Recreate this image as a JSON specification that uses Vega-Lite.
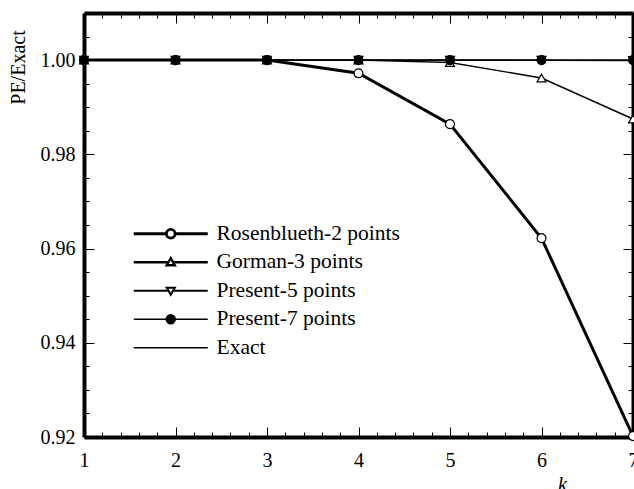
{
  "$schema": "https://vega.github.io/schema/vega-lite/v6.json",
  "width": 549,
  "height": 424,
  "autosize": {"type": "none"},
  "padding": {"left": 84, "top": 13, "right": 1, "bottom": 52},
  "background": "white",
  "config": {"view": {"stroke": null}, "font": "Liberation Serif"},
  "data": {
    "values": [
      {"k": 1, "v": 1.0, "s": "Exact"},
      {"k": 2, "v": 1.0, "s": "Exact"},
      {"k": 3, "v": 1.0, "s": "Exact"},
      {"k": 4, "v": 1.0, "s": "Exact"},
      {"k": 5, "v": 1.0, "s": "Exact"},
      {"k": 6, "v": 1.0, "s": "Exact"},
      {"k": 7, "v": 1.0, "s": "Exact"},
      {"k": 1, "v": 1.0, "s": "Rosenblueth-2 points"},
      {"k": 2, "v": 1.0, "s": "Rosenblueth-2 points"},
      {"k": 3, "v": 1.0, "s": "Rosenblueth-2 points"},
      {"k": 4, "v": 0.9972, "s": "Rosenblueth-2 points"},
      {"k": 5, "v": 0.9864, "s": "Rosenblueth-2 points"},
      {"k": 6, "v": 0.9622, "s": "Rosenblueth-2 points"},
      {"k": 7, "v": 0.9202, "s": "Rosenblueth-2 points"},
      {"k": 1, "v": 1.0, "s": "Gorman-3 points"},
      {"k": 2, "v": 1.0, "s": "Gorman-3 points"},
      {"k": 3, "v": 1.0, "s": "Gorman-3 points"},
      {"k": 4, "v": 1.0, "s": "Gorman-3 points"},
      {"k": 5, "v": 0.9995, "s": "Gorman-3 points"},
      {"k": 6, "v": 0.9962, "s": "Gorman-3 points"},
      {"k": 7, "v": 0.9875, "s": "Gorman-3 points"},
      {"k": 1, "v": 1.0, "s": "Present-5 points"},
      {"k": 2, "v": 1.0, "s": "Present-5 points"},
      {"k": 3, "v": 1.0, "s": "Present-5 points"},
      {"k": 4, "v": 1.0, "s": "Present-5 points"},
      {"k": 5, "v": 1.0, "s": "Present-5 points"},
      {"k": 6, "v": 0.99995, "s": "Present-5 points"},
      {"k": 7, "v": 0.9999, "s": "Present-5 points"},
      {"k": 1, "v": 1.0, "s": "Present-7 points"},
      {"k": 2, "v": 1.0, "s": "Present-7 points"},
      {"k": 3, "v": 1.0, "s": "Present-7 points"},
      {"k": 4, "v": 1.0, "s": "Present-7 points"},
      {"k": 5, "v": 1.0, "s": "Present-7 points"},
      {"k": 6, "v": 1.0, "s": "Present-7 points"},
      {"k": 7, "v": 1.0, "s": "Present-7 points"}
    ]
  },
  "resolve": {"axis": {"x": "independent", "y": "independent"}},
  "layer": [
    {
      "transform": [{"filter": "datum.s !== 'Rosenblueth-2 points'"}],
      "mark": {"type": "line", "color": "black", "strokeWidth": 1.4},
      "encoding": {
        "detail": {"field": "s"},
        "x": {
          "field": "k", "type": "quantitative",
          "scale": {"domain": [1, 7], "nice": false, "zero": false},
          "axis": {
            "orient": "top",
            "values": [1,1.2,1.4,1.6,1.8,2,2.2,2.4,2.6,2.8,3,3.2,3.4,3.6,3.8,4,4.2,4.4,4.6,4.8,5,5.2,5.4,5.6,5.8,6,6.2,6.4,6.6,6.8,7],
            "labels": false, "title": null, "grid": false,
            "domainColor": "black", "domainWidth": 4, "tickColor": "black", "tickWidth": 1,
            "tickSize": {"condition": {"test": "abs(datum.value - round(datum.value)) < 1e-6", "value": -10}, "value": -5}
          }
        },
        "y": {
          "field": "v", "type": "quantitative",
          "scale": {"domain": [0.92, 1.01], "nice": false, "zero": false},
          "axis": {
            "orient": "right",
            "values": [0.92,0.925,0.93,0.935,0.94,0.945,0.95,0.955,0.96,0.965,0.97,0.975,0.98,0.985,0.99,0.995,1,1.005,1.01],
            "labels": false, "title": null, "grid": false,
            "domainColor": "black", "domainWidth": 4, "tickColor": "black", "tickWidth": 1,
            "tickSize": {"condition": {"test": "abs(datum.value*50 - round(datum.value*50)) < 1e-6", "value": -10}, "value": -5}
          }
        }
      }
    },
    {
      "transform": [{"filter": "datum.s === 'Rosenblueth-2 points'"}],
      "mark": {"type": "line", "color": "black", "strokeWidth": 3},
      "encoding": {
        "x": {
          "field": "k", "type": "quantitative",
          "axis": {
            "orient": "bottom",
            "values": [1,1.2,1.4,1.6,1.8,2,2.2,2.4,2.6,2.8,3,3.2,3.4,3.6,3.8,4,4.2,4.4,4.6,4.8,5,5.2,5.4,5.6,5.8,6,6.2,6.4,6.6,6.8,7],
            "labelExpr": "abs(datum.value - round(datum.value)) < 1e-6 ? format(datum.value, 'd') : ''",
            "labelFont": "Liberation Serif", "labelFontSize": 20, "labelColor": "black",
            "labelPadding": 23, "labelFlush": false, "labelOverlap": false, "grid": false,
            "domainColor": "black", "domainWidth": 4, "tickColor": "black", "tickWidth": 1,
            "tickSize": {"condition": {"test": "abs(datum.value - round(datum.value)) < 1e-6", "value": -10}, "value": -5},
            "title": "k", "titleFont": "Liberation Serif", "titleFontSize": 20, "titleFontStyle": "italic",
            "titleFontWeight": "normal", "titleColor": "black",
            "titleX": 478, "titleY": 47, "titleAlign": "center", "titleBaseline": "middle"
          }
        },
        "y": {
          "field": "v", "type": "quantitative",
          "axis": {
            "orient": "left",
            "values": [0.92,0.925,0.93,0.935,0.94,0.945,0.95,0.955,0.96,0.965,0.97,0.975,0.98,0.985,0.99,0.995,1,1.005,1.01],
            "labelExpr": "abs(datum.value*50 - round(datum.value*50)) < 1e-6 ? format(datum.value, '.2f') : ''",
            "labelFont": "Liberation Serif", "labelFontSize": 20, "labelColor": "black",
            "labelPadding": 19, "labelFlush": false, "labelOverlap": false, "grid": false,
            "domainColor": "black", "domainWidth": 4, "tickColor": "black", "tickWidth": 1,
            "tickSize": {"condition": {"test": "abs(datum.value*50 - round(datum.value*50)) < 1e-6", "value": -10}, "value": -5},
            "title": "PE/Exact", "titleFont": "Liberation Serif", "titleFontSize": 20,
            "titleFontWeight": "normal", "titleColor": "black", "titleAngle": -90,
            "titleX": -66, "titleY": 54, "titleAlign": "center", "titleBaseline": "middle"
          }
        }
      }
    },
    {
      "transform": [{"filter": "datum.s === 'Rosenblueth-2 points'"}],
      "mark": {"type": "point", "shape": "circle", "filled": true, "fill": "white", "stroke": "black", "strokeWidth": 1.2, "size": 80, "opacity": 1},
      "encoding": {
        "x": {"field": "k", "type": "quantitative", "axis": null},
        "y": {"field": "v", "type": "quantitative", "axis": null}
      }
    },
    {
      "transform": [{"filter": "datum.s === 'Gorman-3 points'"}],
      "mark": {"type": "point", "shape": "triangle-up", "filled": true, "fill": "white", "stroke": "black", "strokeWidth": 1.2, "size": 80, "opacity": 1},
      "encoding": {
        "x": {"field": "k", "type": "quantitative", "axis": null},
        "y": {"field": "v", "type": "quantitative", "axis": null}
      }
    },
    {
      "transform": [{"filter": "datum.s === 'Present-5 points'"}],
      "mark": {"type": "point", "shape": "triangle-down", "filled": true, "fill": "white", "stroke": "black", "strokeWidth": 1.2, "size": 80, "opacity": 1},
      "encoding": {
        "x": {"field": "k", "type": "quantitative", "axis": null},
        "y": {"field": "v", "type": "quantitative", "axis": null}
      }
    },
    {
      "transform": [{"filter": "datum.s === 'Present-7 points'"}],
      "mark": {"type": "point", "shape": "circle", "filled": true, "fill": "black", "stroke": "black", "strokeWidth": 1.2, "size": 80, "opacity": 1},
      "encoding": {
        "x": {"field": "k", "type": "quantitative", "axis": null},
        "y": {"field": "v", "type": "quantitative", "axis": null}
      }
    },
    {
      "transform": [{"filter": "datum.k > 100"}],
      "mark": {"type": "point", "filled": true, "opacity": 1},
      "encoding": {
        "x": {"field": "k", "type": "quantitative", "axis": null},
        "y": {"field": "v", "type": "quantitative", "axis": null},
        "fill": {
          "field": "s", "type": "nominal",
          "scale": {"domain": ["Rosenblueth-2 points", "Gorman-3 points", "Present-5 points", "Present-7 points", "Exact"], "range": ["white", "white", "white", "black", "white"]}
        },
        "stroke": {
          "field": "s", "type": "nominal",
          "scale": {"domain": ["Rosenblueth-2 points", "Gorman-3 points", "Present-5 points", "Present-7 points", "Exact"], "range": ["black", "black", "black", "black", "black"]}
        },
        "strokeWidth": {
          "field": "s", "type": "nominal",
          "scale": {"domain": ["Rosenblueth-2 points", "Gorman-3 points", "Present-5 points", "Present-7 points", "Exact"], "range": [2.8, 1.3, 1.3, 1.3, 1.3]}
        },
        "shape": {
          "field": "s", "type": "nominal",
          "scale": {
            "domain": ["Rosenblueth-2 points", "Gorman-3 points", "Present-5 points", "Present-7 points", "Exact"],
            "range": [
              "M-7.4,0H-0.88M0.88,0H7.4M-0.88,0A0.88,0.88 0 1,1 0.88,0A0.88,0.88 0 1,1 -0.88,0Z",
              "M-7.4,0H-0.46M0.46,0H7.4M0,-0.8L0.8,0.6L-0.8,0.6Z",
              "M-7.4,0H-0.46M0.46,0H7.4M0,0.8L0.8,-0.6L-0.8,-0.6Z",
              "M-7.4,0H7.4M-0.88,0A0.88,0.88 0 1,1 0.88,0A0.88,0.88 0 1,1 -0.88,0Z",
              "M-7.4,0H7.4"
            ]
          },
          "legend": {
            "orient": "none", "legendX": 76, "legendY": 210, "title": null, "padding": 0,
            "labelFont": "Liberation Serif", "labelFontSize": 21.5, "labelColor": "black", "labelLimit": 0,
            "labelOffset": 35, "rowPadding": 5.5, "symbolSize": 100, "symbolStrokeColor": "black", "symbolOpacity": 1
          }
        }
      }
    }
  ]
}
